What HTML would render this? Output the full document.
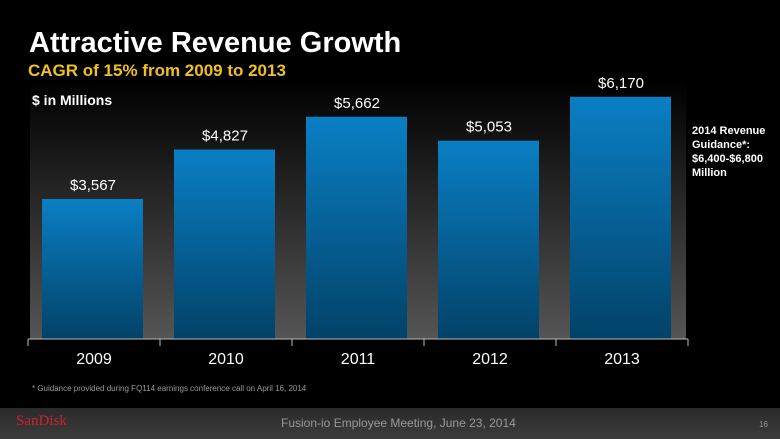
<!DOCTYPE html>
<html><head><meta charset="utf-8"><style>
body{margin:0;width:780px;height:439px;background:#000;overflow:hidden;font-family:"Liberation Sans",sans-serif;position:relative}
.t{position:absolute;white-space:nowrap;z-index:2}
svg{z-index:1}
</style></head><body>
<svg width="780" height="439" style="position:absolute;left:0;top:0">
<defs>
<linearGradient id="bg" x1="0" y1="0" x2="0" y2="1"><stop offset="0" stop-color="#000"/><stop offset="1" stop-color="#555"/></linearGradient>
<linearGradient id="bar" x1="0" y1="0" x2="0" y2="1"><stop offset="0" stop-color="#0a7fc4"/><stop offset="1" stop-color="#024268"/></linearGradient>
<linearGradient id="ft" x1="0" y1="0" x2="0" y2="1"><stop offset="0" stop-color="#2a2a2a"/><stop offset="1" stop-color="#3c3c3c"/></linearGradient>
</defs>
<rect x="30" y="80" width="656" height="259" fill="url(#bg)"/>
<g id="bars"></g>
<line x1="28" y1="339" x2="688" y2="339" stroke="#bbb" stroke-width="1"/>
<g id="ticks"></g>
<text x="32" y="391" font-size="8" fill="#999">* Guidance provided during FQ114 earnings conference call on April 16, 2014</text>
<rect x="0" y="408" width="780" height="31" fill="url(#ft)"/>
<text x="16" y="425" font-size="15" fill="#d02030" font-family="Liberation Serif">SanDisk</text>
<text x="281" y="427" font-size="12" fill="#999">Fusion-io Employee Meeting, June 23, 2014</text>
<text x="768" y="427" font-size="8" fill="#999" text-anchor="end">16</text>
</svg>
<div class="t" style="left:29px;top:27px;font-size:29px;font-weight:bold;color:#fff">Attractive Revenue Growth</div>
<div class="t" style="left:28px;top:61px;font-size:17px;font-weight:bold;color:#f0c020">CAGR of 15% from 2009 to 2013</div>
<div class="t" style="left:32px;top:92px;font-size:14px;font-weight:bold;color:#fff">$ in Millions</div>
<div class="t" style="left:692px;top:124px;font-size:11px;font-weight:bold;color:#fff;line-height:14px">2014 Revenue<br>Guidance*:<br>$6,400-$6,800<br>Million</div>
<script>
const categories=["2009","2010","2011","2012","2013"];
const values=[3567,4827,5662,5053,6170];
const valueLabels=["$3,567","$4,827","$5,662","$5,053","$6,170"];
const NS="http://www.w3.org/2000/svg";
const x0=28,bw=132,base=339,k=140/3567;
const xs=i=>x0+i*bw;
const ys=v=>base-v*k;
const gb=document.getElementById('bars'),gt=document.getElementById('ticks');
categories.forEach((c,i)=>{
  const r=document.createElementNS(NS,'rect');
  
  
  r.setAttribute('x',xs(i)+14);r.setAttribute('width',101);
  r.setAttribute('y',ys(values[i]));r.setAttribute('height',base-ys(values[i]));
  r.setAttribute('fill','url(#bar)');gb.appendChild(r);
  const t=document.createElementNS(NS,'text');
  
  
  t.setAttribute('x',xs(i)+bw/2-1);t.setAttribute('y',ys(values[i])-9);
  t.setAttribute('text-anchor','middle');t.setAttribute('font-size','15');t.setAttribute('fill','#fff');
  t.textContent=valueLabels[i];gb.appendChild(t);
  const l=document.createElementNS(NS,'text');
  
  
  l.setAttribute('x',xs(i)+bw/2);l.setAttribute('y',364);
  l.setAttribute('text-anchor','middle');l.setAttribute('font-size','16');l.setAttribute('fill','#fff');
  l.textContent=c;gt.appendChild(l);
});
for(let i=0;i<=categories.length;i++){
  const tk=document.createElementNS(NS,'line');
  
  
  tk.setAttribute('x1',xs(i));tk.setAttribute('x2',xs(i));tk.setAttribute('y1',339);tk.setAttribute('y2',346);
  tk.setAttribute('stroke','#bbb');gt.appendChild(tk);
}
</script>
</body></html>
